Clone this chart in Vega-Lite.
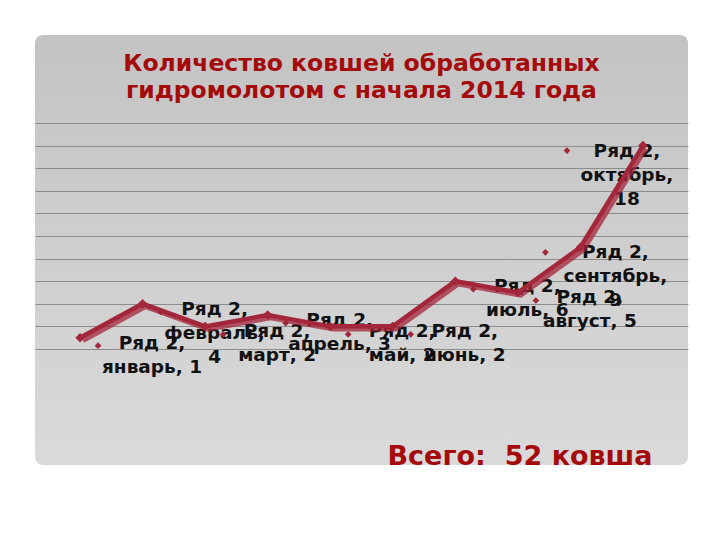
{
  "$schema": "https://vega.github.io/schema/vega-lite/v6.json",
  "autosize": "none",
  "width": 653,
  "height": 430,
  "padding": {"left": 35, "top": 35, "right": 32, "bottom": 75},
  "background": "white",
  "title": {
    "text": ["Количество ковшей обработанных", "гидромолотом с начала 2014 года"],
    "color": "#a50a0a",
    "font": "DejaVu Sans",
    "fontSize": 23.5,
    "fontWeight": "bold",
    "lineHeight": 27,
    "anchor": "middle",
    "offset": -67
  },
  "data": {"values": [
    {"month": "январь", "value": 1},
    {"month": "февраль", "value": 4},
    {"month": "март", "value": 2},
    {"month": "апрель", "value": 3},
    {"month": "май", "value": 2},
    {"month": "июнь", "value": 2},
    {"month": "июль", "value": 6},
    {"month": "август", "value": 5},
    {"month": "сентябрь", "value": 9},
    {"month": "октябрь", "value": 18}
  ]},
  "transform": [
    {"calculate": "'Ряд 2,\\n' + datum.month + (length(datum.month) > 6 ? ',\\n' : ', ') + datum.value", "as": "label"}
  ],
  "encoding": {
    "x": {
      "field": "month", "type": "nominal", "sort": null,
      "scale": {"type": "point", "padding": 0.72},
      "axis": {
        "labels": false, "ticks": false, "domain": false, "grid": false,
        "title": "Всего:\u00a0\u00a052 ковша",
        "titleColor": "#a50a0a", "titleFont": "DejaVu Sans", "titleFontSize": 27, "titleFontWeight": "bold",
        "titleAlign": "right", "titleAnchor": "end", "titleX": 617, "titleY": -1, "titleBaseline": "alphabetic"
      }
    },
    "y": {
      "field": "value", "type": "quantitative",
      "scale": {"domain": [-10.27, 27.79], "nice": false, "zero": false},
      "axis": {
        "values": [0, 2, 4, 6, 8, 10, 12, 14, 16, 18, 20],
        "labels": false, "ticks": false, "domain": false, "title": null,
        "grid": true, "gridColor": "#8c8c8c", "gridWidth": 1
      }
    }
  },
  "layer": [
    {
      "transform": [{"filter": "datum.value < 9"}],
      "mark": {"type": "text", "align": "center", "baseline": "top", "dx": 72, "dy": -4, "lineBreak": "\n",
               "font": "DejaVu Sans", "fontSize": 18.5, "fontWeight": "bold", "lineHeight": 24, "color": "#111111"},
      "encoding": {"text": {"field": "label"}}
    },
    {
      "transform": [{"filter": "datum.month == 'сентябрь'"}],
      "mark": {"type": "text", "align": "center", "baseline": "top", "dx": 35, "dy": -4, "lineBreak": "\n",
               "font": "DejaVu Sans", "fontSize": 18.5, "fontWeight": "bold", "lineHeight": 24, "color": "#111111"},
      "encoding": {"text": {"field": "label"}}
    },
    {
      "transform": [{"filter": "datum.month == 'октябрь'"}],
      "mark": {"type": "text", "align": "center", "baseline": "top", "dx": -16, "dy": -4, "lineBreak": "\n",
               "font": "DejaVu Sans", "fontSize": 18.5, "fontWeight": "bold", "lineHeight": 24, "color": "#111111"},
      "encoding": {"text": {"field": "label"}}
    },
    {
      "transform": [{"filter": "datum.value < 9"}],
      "mark": {"type": "point", "shape": "diamond", "filled": true, "size": 45, "opacity": 1,
               "color": "#a3263a", "xOffset": 18, "yOffset": 8}
    },
    {
      "transform": [{"filter": "datum.month == 'сентябрь'"}],
      "mark": {"type": "point", "shape": "diamond", "filled": true, "size": 45, "opacity": 1,
               "color": "#a3263a", "xOffset": -35, "yOffset": 5}
    },
    {
      "transform": [{"filter": "datum.month == 'октябрь'"}],
      "mark": {"type": "point", "shape": "diamond", "filled": true, "size": 45, "opacity": 1,
               "color": "#a3263a", "xOffset": -76, "yOffset": 5}
    },
    {
      "mark": {"type": "line", "color": "#a3263a", "strokeWidth": 4.5, "opacity": 0.75,
               "xOffset": 3, "yOffset": 3}
    },
    {
      "mark": {"type": "line", "color": "#a3263a", "strokeWidth": 4.5,
               "point": {"shape": "diamond", "filled": true, "size": 90, "color": "#a3263a"}}
    }
  ],
  "config": {
    "view": {
      "cornerRadius": 8,
      "stroke": null,
      "fill": {"gradient": "linear", "x1": 0, "y1": 0, "x2": 0, "y2": 1,
               "stops": [{"offset": 0, "color": "#c3c3c3"}, {"offset": 1, "color": "#dadada"}]}
    }
  }
}
